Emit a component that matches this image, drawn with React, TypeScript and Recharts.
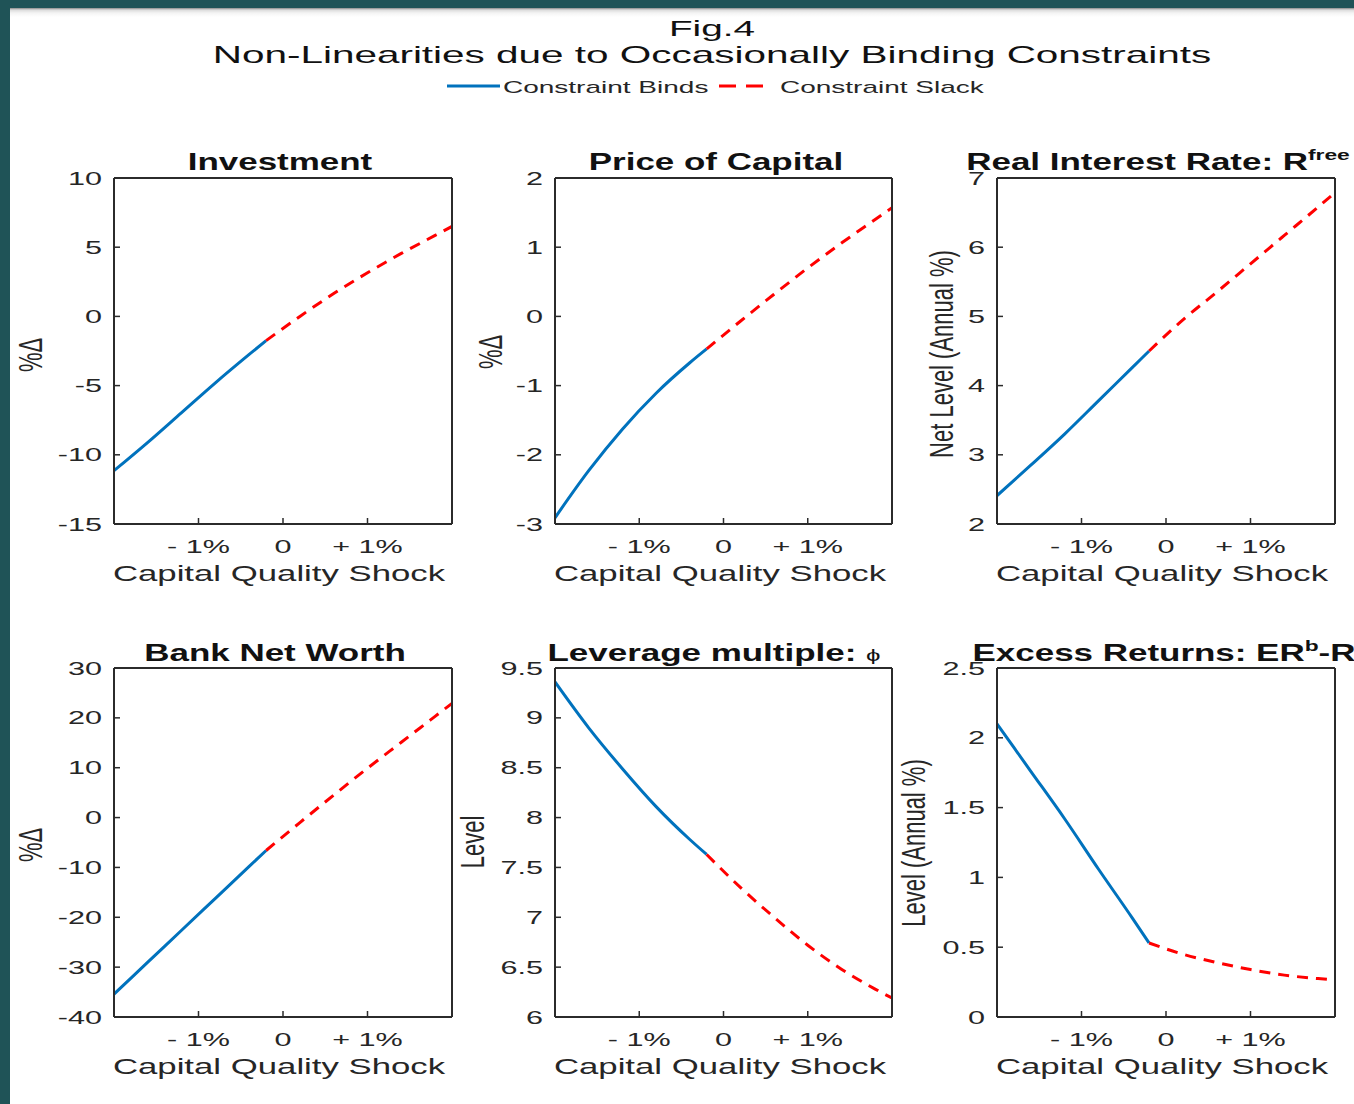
import React from "react";
import { LineChart, Line, XAxis, YAxis } from "recharts";

// shock grid (in %), split where the constraint stops binding
const bindX = [-2, -1.6, -1.2, -0.8, -0.4, -0.2];
const slackX = [-0.2, 0.2, 0.6, 1.0, 1.4, 1.8, 2.0];
const shockTicks = [-1, 0, 1];
const shockLabels = ["- 1%", "0", "+ 1%"];

const investBind = [-11.15, -9.1, -6.95, -4.8, -2.75, -1.75];
const investSlack = [-1.75, 0.0, 1.65, 3.15, 4.55, 5.85, 6.5];
const investTicks = [-15, -10, -5, 0, 5, 10];

const priceBind = [-2.91, -2.23, -1.63, -1.11, -0.67, -0.47];
const priceSlack = [-0.47, -0.07, 0.32, 0.7, 1.06, 1.4, 1.57];
const priceTicks = [-3, -2, -1, 0, 1, 2];

const rateBind = [2.41, 2.85, 3.3, 3.78, 4.26, 4.5];
const rateSlack = [4.5, 4.95, 5.35, 5.76, 6.17, 6.58, 6.79];
const rateTicks = [2, 3, 4, 5, 6, 7];

const netWorthBind = [-35.4, -29.0, -22.6, -16.2, -9.8, -6.6];
const netWorthSlack = [-6.6, -1.0, 4.5, 9.9, 15.1, 20.3, 22.9];
const netWorthTicks = [-40, -30, -20, -10, 0, 10, 20, 30];

const leverageBind = [9.36, 8.9, 8.49, 8.11, 7.78, 7.63];
const leverageSlack = [7.63, 7.3, 7.0, 6.72, 6.48, 6.28, 6.19];
const leverageTicks = [6, 6.5, 7, 7.5, 8, 8.5, 9, 9.5];

const excessBind = [2.1, 1.76, 1.42, 1.06, 0.71, 0.53];
const excessSlack = [0.53, 0.45, 0.39, 0.34, 0.3, 0.275, 0.265];
const excessTicks = [0, 0.5, 1, 1.5, 2, 2.5];

const FONT = "'Liberation Sans', Arial, sans-serif";
const TXT = "#262626";
const AXIS = "#2b2b2b";
const BLUE = "#0072BD";
const RED = "#FF0000";

function buildRows(bind: number[], slack: number[]) {
  const rows: any[] = bindX.map((x, i) => ({ x, bind: bind[i], slack: null }));
  slackX.forEach((x, i) => {
    const hit = rows.find((r) => r.x === x);
    if (hit) hit.slack = slack[i];
    else rows.push({ x, bind: null, slack: slack[i] });
  });
  return rows;
}

const ValueTick = (props: any) => {
  const { x, y, payload } = props;
  return (
    <text transform={`translate(${x},${y + 6.5}) scale(1.7,1)`} textAnchor="end" fontSize={18} fontFamily={FONT} fill={TXT}>
      {payload.value}
    </text>
  );
};

const ShockTick = (props: any) => {
  const { x, y, payload } = props;
  const label = shockLabels[shockTicks.indexOf(payload.value)];
  return (
    <text transform={`translate(${x},${y + 23}) scale(1.7,1)`} textAnchor="middle" fontSize={18} fontFamily={FONT} fill={TXT}>
      {label}
    </text>
  );
};

function Panel({ left, top, w, h, domain, ticks, bind, slack }: any) {
  const rows = buildRows(bind, slack);
  const axisLine = { stroke: AXIS, strokeWidth: 2 };
  const tickLine = { stroke: AXIS, strokeWidth: 1.5 };
  return (
    <div style={{ position: "absolute", left: left - 100, top: top - 10 }}>
      <LineChart width={w + 111} height={h + 101} data={rows} margin={{ top: 9, right: 10, bottom: 0, left: 0 }}>
        <XAxis xAxisId="b" dataKey="x" type="number" domain={[-2, 2]} ticks={shockTicks} interval={0} height={90}
          tickSize={-6} tickMargin={12} tick={<ShockTick />} axisLine={axisLine} tickLine={tickLine} allowDataOverflow />
        <XAxis xAxisId="t" orientation="top" dataKey="x" type="number" domain={[-2, 2]} ticks={shockTicks} interval={0} height={1}
          tickSize={-6} tick={false} axisLine={axisLine} tickLine={tickLine} allowDataOverflow />
        <YAxis yAxisId="l" type="number" domain={domain} ticks={ticks} interval={0} width={100}
          tickSize={-6} tickMargin={18} tick={<ValueTick />} axisLine={axisLine} tickLine={tickLine} allowDataOverflow />
        <YAxis yAxisId="r" orientation="right" type="number" domain={domain} ticks={ticks} interval={0} width={1}
          tickSize={-6} tick={false} axisLine={axisLine} tickLine={tickLine} allowDataOverflow />
        <Line xAxisId="b" yAxisId="l" type="monotone" dataKey="bind" stroke={BLUE} strokeWidth={3} dot={false} isAnimationActive={false} />
        <Line xAxisId="b" yAxisId="l" type="monotone" dataKey="slack" stroke={RED} strokeWidth={3} strokeDasharray="11 8" dot={false} isAnimationActive={false} />
      </LineChart>
    </div>
  );
}

function Stretch({ x, y, k, size, anchor = "middle", bold = false, color = TXT, children }: any) {
  return (
    <text transform={`translate(${x},${y}) scale(${k},1)`} textAnchor={anchor} fontSize={size} fontFamily={FONT}
      fontWeight={bold ? "bold" : "normal"} fill={color}>
      {children}
    </text>
  );
}

function VLabel({ x, y, children }: any) {
  return (
    <text transform={`translate(${x},${y}) scale(1.55,1) rotate(-90)`} textAnchor="middle" dominantBaseline="central"
      fontSize={22} fontFamily={FONT} fill={TXT}>
      {children}
    </text>
  );
}

const cols = [114, 555, 997];
const rowsTop = [178, 668];
const boxW = 338;
const boxH = [345, 348];

export default function App() {
  const xl = (c: number, r: number) => (
    <Stretch x={cols[c] + boxW / 2 - 4} y={rowsTop[r] + boxH[r] + 58} k={1.58} size={22}>Capital Quality Shock</Stretch>
  );
  return (
    <div style={{ position: "absolute", left: 0, top: 0, width: 1354, height: 1104, background: "#1f5357", overflow: "hidden" }}>
      <div style={{ position: "absolute", left: 10, top: 8, width: 1344, height: 1096,
        background: "linear-gradient(to bottom, #8a8a8a 0px, #dcdcdc 2px, #f4f4f4 5px, #ffffff 9px)" }} />
      <Panel left={cols[0]} top={rowsTop[0]} w={boxW} h={boxH[0]} domain={[-15, 10]} ticks={investTicks} bind={investBind} slack={investSlack} />
      <Panel left={cols[1]} top={rowsTop[0]} w={boxW - 1} h={boxH[0]} domain={[-3, 2]} ticks={priceTicks} bind={priceBind} slack={priceSlack} />
      <Panel left={cols[2]} top={rowsTop[0]} w={boxW} h={boxH[0]} domain={[2, 7]} ticks={rateTicks} bind={rateBind} slack={rateSlack} />
      <Panel left={cols[0]} top={rowsTop[1]} w={boxW} h={boxH[1]} domain={[-40, 30]} ticks={netWorthTicks} bind={netWorthBind} slack={netWorthSlack} />
      <Panel left={cols[1]} top={rowsTop[1]} w={boxW - 1} h={boxH[1]} domain={[6, 9.5]} ticks={leverageTicks} bind={leverageBind} slack={leverageSlack} />
      <Panel left={cols[2]} top={rowsTop[1]} w={boxW} h={boxH[1]} domain={[0, 2.5]} ticks={excessTicks} bind={excessBind} slack={excessSlack} />
      <svg width={1354} height={1104} style={{ position: "absolute", left: 0, top: 0, pointerEvents: "none" }}>
        <Stretch x={712} y={36} k={1.76} size={22} color="#111">Fig.4</Stretch>
        <Stretch x={712} y={63} k={1.76} size={23} color="#111">Non-Linearities due to Occasionally Binding Constraints</Stretch>
        <line x1={447} y1={86} x2={500} y2={86} stroke={BLUE} strokeWidth={3} />
        <Stretch x={503} y={93} k={1.75} size={16} anchor="start">Constraint Binds</Stretch>
        <line x1={719} y1={86} x2={764} y2={86} stroke={RED} strokeWidth={3} strokeDasharray="17 10" />
        <Stretch x={780} y={93} k={1.75} size={16} anchor="start">Constraint Slack</Stretch>

        <Stretch x={280} y={170} k={1.52} size={23} bold color="#111">Investment</Stretch>
        <Stretch x={716} y={170} k={1.52} size={23} bold color="#111">Price of Capital</Stretch>
        <Stretch x={1158} y={170} k={1.52} size={23} bold color="#111">
          Real Interest Rate: R<tspan fontSize={15} dy={-10}>free</tspan>
        </Stretch>
        <Stretch x={275} y={661} k={1.52} size={23} bold color="#111">Bank Net Worth</Stretch>
        <Stretch x={714} y={661} k={1.52} size={23} bold color="#111">
          Leverage multiple: <tspan fontWeight="normal" fontSize={17}>ϕ</tspan>
        </Stretch>
        <Stretch x={1164} y={661} k={1.52} size={23} bold color="#111">
          Excess Returns: ER<tspan fontSize={15} dy={-10}>b</tspan><tspan dy={10}>-R</tspan>
        </Stretch>

        {xl(0, 0)}{xl(1, 0)}{xl(2, 0)}{xl(0, 1)}{xl(1, 1)}{xl(2, 1)}

        <VLabel x={30} y={355}>%Δ</VLabel>
        <VLabel x={490} y={352}>%Δ</VLabel>
        <VLabel x={941} y={354}>Net Level (Annual %)</VLabel>
        <VLabel x={30} y={845}>%Δ</VLabel>
        <VLabel x={472} y={842}>Level</VLabel>
        <VLabel x={913} y={843}>Level (Annual %)</VLabel>
      </svg>
    </div>
  );
}
